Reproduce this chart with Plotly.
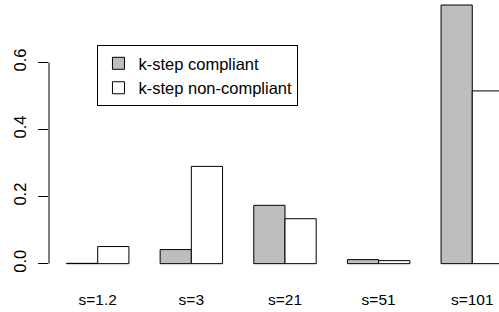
import plotly.graph_objects as go

categories = ["s=1.2", "s=3", "s=21", "s=51", "s=101"]
compliant = [0.001, 0.042, 0.174, 0.012, 0.771]
non_compliant = [0.051, 0.290, 0.134, 0.009, 0.515]
series_names = ["k-step compliant", "k-step non-compliant"]
y_ticks = [0.0, 0.2, 0.4, 0.6]

# R barplot(beside=TRUE) layout: each group starts at 1 + 3*i, bar width 1
group_start = [1 + 3 * i for i in range(len(categories))]
x_comp = [g + 0.5 for g in group_start]
x_non = [g + 1.5 for g in group_start]
x_centers = [g + 1.0 for g in group_start]

font = "Liberation Sans, Arial, Helvetica, sans-serif"

fig = go.Figure()
fig.add_trace(go.Bar(x=x_comp, y=compliant, width=1, name=series_names[0],
                     marker=dict(color="#BEBEBE", line=dict(color="black", width=1))))
fig.add_trace(go.Bar(x=x_non, y=non_compliant, width=1, name=series_names[1],
                     marker=dict(color="white", line=dict(color="black", width=1))))

fig.update_layout(
    width=499, height=312,
    margin=dict(l=49, r=0, t=0, b=38, autoexpand=False),
    paper_bgcolor="white", plot_bgcolor="white",
    barmode="overlay",
    font=dict(family=font, size=16, color="black"),
    xaxis=dict(range=[0.44, 14.856], tickvals=x_centers, ticktext=categories,
               showgrid=False, zeroline=False, showline=False, ticks="",
               tickfont=dict(size=15.5), ticklabelstandoff=14),
    yaxis=dict(range=[-0.0308, 0.786], tickvals=y_ticks, tickformat=".1f",
               showgrid=False, zeroline=False, showline=False,
               ticks="outside", ticklen=10, tickwidth=1, tickcolor="black",
               tickangle=-90, tickfont=dict(size=16.5), ticklabelstandoff=5),
    legend=dict(x=0.1077, y=0.8355, xanchor="left", yanchor="top",
                bordercolor="black", borderwidth=1, bgcolor="white",
                font=dict(size=16.5), traceorder="normal"),
    shapes=[dict(type="line", xref="paper", yref="y", x0=0, x1=0,
                 y0=y_ticks[0], y1=y_ticks[-1], line=dict(color="black", width=1))],
)

fig.write_html("out.html", config={"displayModeBar": False},
               post_script="document.body.style.margin='0';document.body.style.overflow='hidden';")
